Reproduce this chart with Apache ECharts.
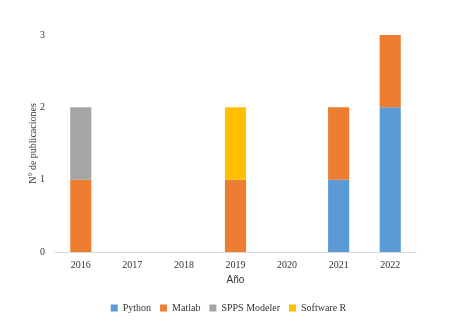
<!DOCTYPE html>
<html>
<head>
<meta charset="utf-8">
<script src="https://cdn.jsdelivr.net/npm/echarts@6/dist/echarts.min.js"></script>
<style>
  html, body { margin: 0; padding: 0; background: #fff; }
  #chart { width: 457px; height: 327px; }
</style>
</head>
<body>
<div id="chart"></div>
<script>
const years = ['2016', '2017', '2018', '2019', '2020', '2021', '2022'];
const python = [0, 0, 0, 0, 0, 1, 2];
const matlab = [1, 0, 0, 1, 0, 1, 1];
const spps = [1, 0, 0, 0, 0, 0, 0];
const softwareR = [0, 0, 0, 1, 0, 0, 0];
const yTicks = [0, 1, 2, 3];

const serif = '"Liberation Serif", "DejaVu Serif", serif';

const makeSeries = (name, data, color) => ({
  name: name,
  type: 'bar',
  stack: 'total',
  barWidth: '41%',
  itemStyle: { color: color },
  data: data.map(v => (v === 0 ? null : v))
});

const myChart = echarts.init(document.getElementById('chart'));
myChart.setOption({
  animation: false,
  grid: { left: 55, right: 41, top: 35, bottom: 75 },
  legend: {
    bottom: 9,
    left: 'center',
    itemWidth: 7,
    itemHeight: 7,
    itemGap: 9,
    icon: 'rect',
    textStyle: { fontFamily: serif, fontSize: 10, color: '#333' },
    data: ['Python', 'Matlab', 'SPPS Modeler', 'Software R']
  },
  xAxis: {
    type: 'category',
    data: years,
    name: 'Año',
    nameLocation: 'middle',
    nameGap: 23,
    nameTextStyle: { fontFamily: '"Liberation Sans", Arial, sans-serif', fontSize: 10, color: '#333' },
    axisLine: { lineStyle: { color: '#d9d9d9', width: 1 } },
    axisTick: { show: false },
    axisLabel: { fontFamily: serif, fontSize: 10, color: '#333', margin: 8 }
  },
  yAxis: {
    type: 'value',
    min: yTicks[0],
    max: yTicks[yTicks.length - 1],
    interval: 1,
    name: 'N° de publicaciones',
    nameLocation: 'middle',
    nameGap: 17,
    nameMoveOverlap: false,
    nameTextStyle: { fontFamily: serif, fontSize: 10, color: '#333' },
    splitLine: { show: false },
    axisLine: { show: false },
    axisTick: { show: false },
    axisLabel: { fontFamily: serif, fontSize: 10, color: '#333', margin: 10 }
  },
  series: [
    makeSeries('Python', python, '#5b9bd5'),
    makeSeries('Matlab', matlab, '#ed7d31'),
    makeSeries('SPPS Modeler', spps, '#a5a5a5'),
    makeSeries('Software R', softwareR, '#ffc000')
  ]
});
</script>
</body>
</html>
